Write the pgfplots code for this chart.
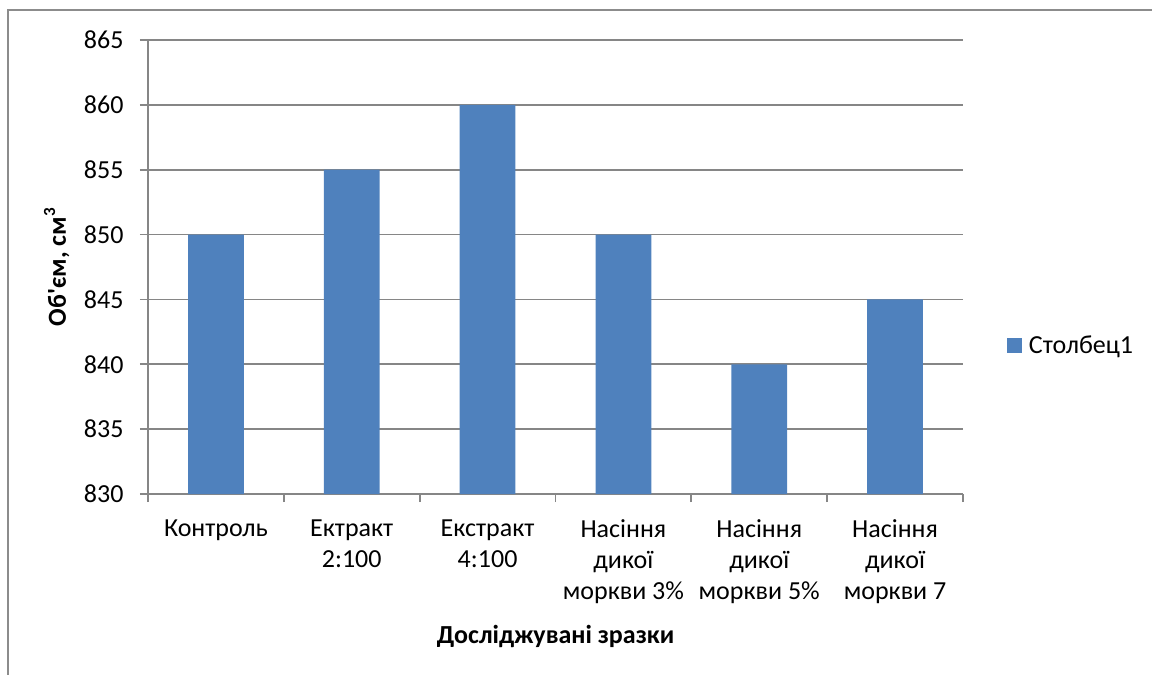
\documentclass[border=0pt]{standalone}
\usepackage{fontspec}
\setmainfont{Carlito}
\usepackage{pgfplots}
\pgfplotsset{compat=1.18}
\usetikzlibrary{calc}
\definecolor{barblue}{HTML}{4F81BD}
\definecolor{axisgray}{HTML}{868686}
\definecolor{framegray}{HTML}{8C8C8C}
\newcommand{\chartfont}{\fontsize{26}{31}\selectfont}
\begin{document}
\begin{tikzpicture}
\begin{axis}[
  name=ax,
  scale only axis, width=815pt, height=454pt,
  ymin=830, ymax=865, ytick={830,835,...,865},
  xmin=-0.5, xmax=5.5,
  xtick={-0.5,0.5,...,5.5}, xticklabels={},
  extra x ticks={0,1,2,3,4,5},
  extra x tick labels={Контроль,{Ектракт\\2:100},{Екстракт\\4:100},{Насіння\\дикої\\моркви 3\%},{Насіння\\дикої\\моркви 5\%},{Насіння\\дикої\\моркви 7}},
  extra x tick style={major tick length=0pt, grid=none},
  axis x line*=bottom, axis y line*=left,
  x axis line style={-}, y axis line style={-},
  axis line style={axisgray, line width=1.8pt},
  tick align=outside, major tick length=8pt,
  tick style={axisgray, line width=1.8pt},
  ymajorgrids, grid style={axisgray, line width=1.8pt},
  /pgf/number format/assume math mode=true,
  every tick label/.append style={font=\chartfont, text=black},
  yticklabel style={anchor=east, xshift=-13pt},
  xticklabel style={align=center, anchor=north, yshift=-22pt},
  xlabel={\bfseries Досліджувані зразки},
  ylabel={\bfseries Об\textquotesingle єм, см\raisebox{0.42em}{\fontsize{17}{17}\selectfont 3}},
  every axis x label/.style={at={(rel axis cs:0.5,0)}, anchor=base, yshift=-149pt, font=\chartfont},
  every axis y label/.style={at={(rel axis cs:0,0.5)}, xshift=-82pt, rotate=90, anchor=base, font=\chartfont},
  legend style={at={(rel axis cs:1.05,0.328)}, anchor=west, draw=none, fill=none, font=\chartfont},
  legend cell align=left,
]
\addplot[ybar, bar width=0.41, fill=barblue, draw=none,
  legend image code/.code={\fill[barblue] (0pt,-7.5pt) rectangle (15pt,7.5pt); \path (20pt,0pt);}]
  coordinates {(0,850) (1,855) (2,860) (3,850) (4,840) (5,845)};
\addlegendentry{Столбец1}
\end{axis}
% page area and outer chart frame, placed from the plot box corner
\coordinate (O) at ($(ax.south west)+(-148pt,-181pt)$);
\pgfresetboundingbox
\path[use as bounding box] (O) rectangle ++(1152pt,675pt);
\begin{scope}
  \clip (O) rectangle ++(1152pt,675pt);
  \draw[framegray, line width=2pt] ($(O)+(8.5pt,664.5pt)$) rectangle ($(O)+(1180pt,-30pt)$);
\end{scope}
\end{tikzpicture}
\end{document}
